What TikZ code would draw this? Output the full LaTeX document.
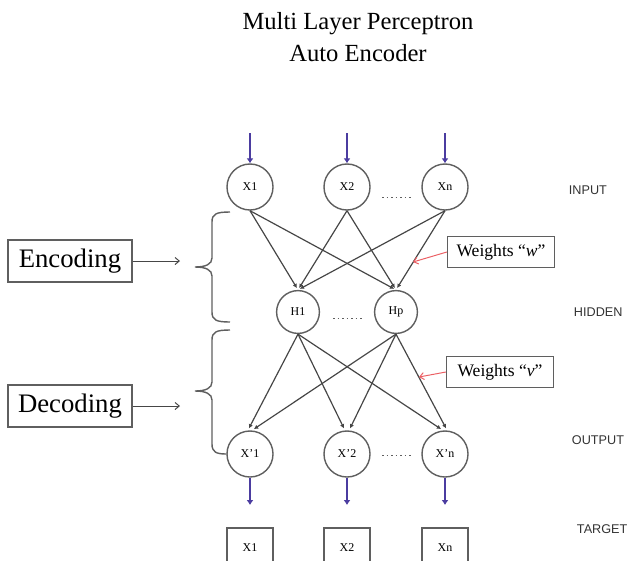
\documentclass[tikz,border=0pt]{standalone}
\usepackage{fontspec}
\setmainfont{Liberation Serif}
\setsansfont{Liberation Sans}
\usepackage{tikz}
\usetikzlibrary{arrows.meta, positioning}

\begin{document}
\begin{tikzpicture}[x=0.025cm, y=-0.025cm]

% ------------------------
% Colors
% ------------------------
\definecolor{colWire}{RGB}{70,70,70}
\definecolor{colCirc}{RGB}{95,95,95}
\definecolor{colIn}{RGB}{75,60,160}
\definecolor{colRed}{RGB}{235,95,100}

\tikzset{
  unit/.style={circle, draw=colCirc, line width=1pt, minimum size=1.15cm, inner sep=0pt,
               font=\fontsize{8.5}{10}\selectfont},
  hunit/.style={unit, minimum size=1.07cm},
  tgtbox/.style={draw=colCirc, line width=1pt, minimum width=1.15cm, minimum height=1cm,
               inner sep=0pt, font=\fontsize{8.5}{10}\selectfont},
  sidebox/.style={draw=colCirc, line width=1pt, minimum width=3.1cm, minimum height=1.05cm,
               inner sep=0pt, font=\fontsize{19}{22}\selectfont},
  wbox/.style={draw=colCirc, line width=1pt, minimum width=2.67cm, minimum height=0.77cm,
               inner sep=0pt, font=\fontsize{12.5}{14}\selectfont},
  layer/.style={anchor=west, font=\sffamily\fontsize{9}{10}\selectfont, text=black!80},
  wire/.style={colWire, line width=0.85pt, shorten >=1.5pt, -{Latex[length=3pt,width=3.2pt]}},
  flow/.style={colIn, line width=0.8pt, -{Latex[length=3.5pt,width=5pt]}},
  pointer/.style={line width=0.7pt, -{Straight Barb[length=3pt,width=5pt]}},
  gapdots/.style={colCirc, line width=0.6pt, dash pattern=on 1.2pt off 2pt},
  curly/.style={colCirc, line width=1pt}
}

\path[use as bounding box] (0,0) rectangle (631,560);
\clip (0,0) rectangle (631,560);

% Title
\node[font=\fontsize{17.5}{23}\selectfont, align=center] (title) at (358,37)
  {Multi Layer Perceptron\\Auto Encoder};

% ------------------------
% Units
% ------------------------
\foreach \c/\xx in {1/250, 2/347, n/445} {
  \node[unit] (X\c) at (\xx,187) {X\c};
  \node[unit] (O\c) at (\xx,454) {X'\c};
  \node[tgtbox] (T\c) at (\xx,548) {X\c};
  \coordinate (in\c) at (\xx,133);
  \coordinate (out\c) at (\xx,505);
  \draw[flow] (in\c) -- (X\c.north);
  \draw[flow] (O\c.south) -- (out\c);
}
\node[hunit] (H1) at (298,312) {H1};
\node[hunit] (Hp) at (396,312) {Hp};

% dots between units
\draw[gapdots] (382,197) -- (412,197);
\draw[gapdots] (333,318) -- (363,318);
\draw[gapdots] (382,455) -- (412,455);

% ------------------------
% Weights
% ------------------------
\foreach \c in {1,2,n} {
  \foreach \h in {1,p} {
    \draw[wire] (X\c.south) -- (H\h.north);
  }
  \draw[wire] (H1.south) -- ([xshift=-1.5pt]O\c.north);
  \draw[wire] (Hp.south) -- ([xshift=1.5pt]O\c.north);
}

% layer names
\node[layer] (lIn) at (564,190) {INPUT};
\node[layer] (lHid) at (569,312) {HIDDEN};
\node[layer] (lOut) at (567,440) {OUTPUT};
\node[layer] (lTgt) at (572,529) {TARGET};

% weight labels
\node[wbox] (Ww) at (501,252) {Weights ``\textit{w}''};
\node[wbox] (Wv) at (500,372) {Weights ``\textit{v}''};
\coordinate (wTip) at (413,262);
\coordinate (vTip) at (419,377);
\draw[pointer, colRed] (Ww.west) -- (wTip);
\draw[pointer, colRed] (Wv.west) -- (vTip);

% ------------------------
% Encoding / Decoding
% ------------------------
\node[sidebox] (enc) at (70,261) {Encoding};
\node[sidebox] (dec) at (70,406) {Decoding};
\coordinate (encTip) at (180,261);
\coordinate (decTip) at (180,406);
\draw[pointer, colWire] (enc.east) -- (encTip);
\draw[pointer, colWire] (dec.east) -- (decTip);

% braces
\draw[curly] (230,212) .. controls (216,212) and (212,214) .. (212,222) -- (212,258)
  .. controls (212,264) and (206,267) .. (195,267)
  .. controls (206,267) and (212,270) .. (212,276) -- (212,312)
  .. controls (212,320) and (216,322) .. (230,322);
\draw[curly] (230,330) .. controls (216,330) and (212,332) .. (212,340) -- (212,382)
  .. controls (212,388) and (206,391) .. (195,391)
  .. controls (206,391) and (212,394) .. (212,400) -- (212,444)
  .. controls (212,452) and (216,454) .. (O1.west);

\end{tikzpicture}
\end{document}
